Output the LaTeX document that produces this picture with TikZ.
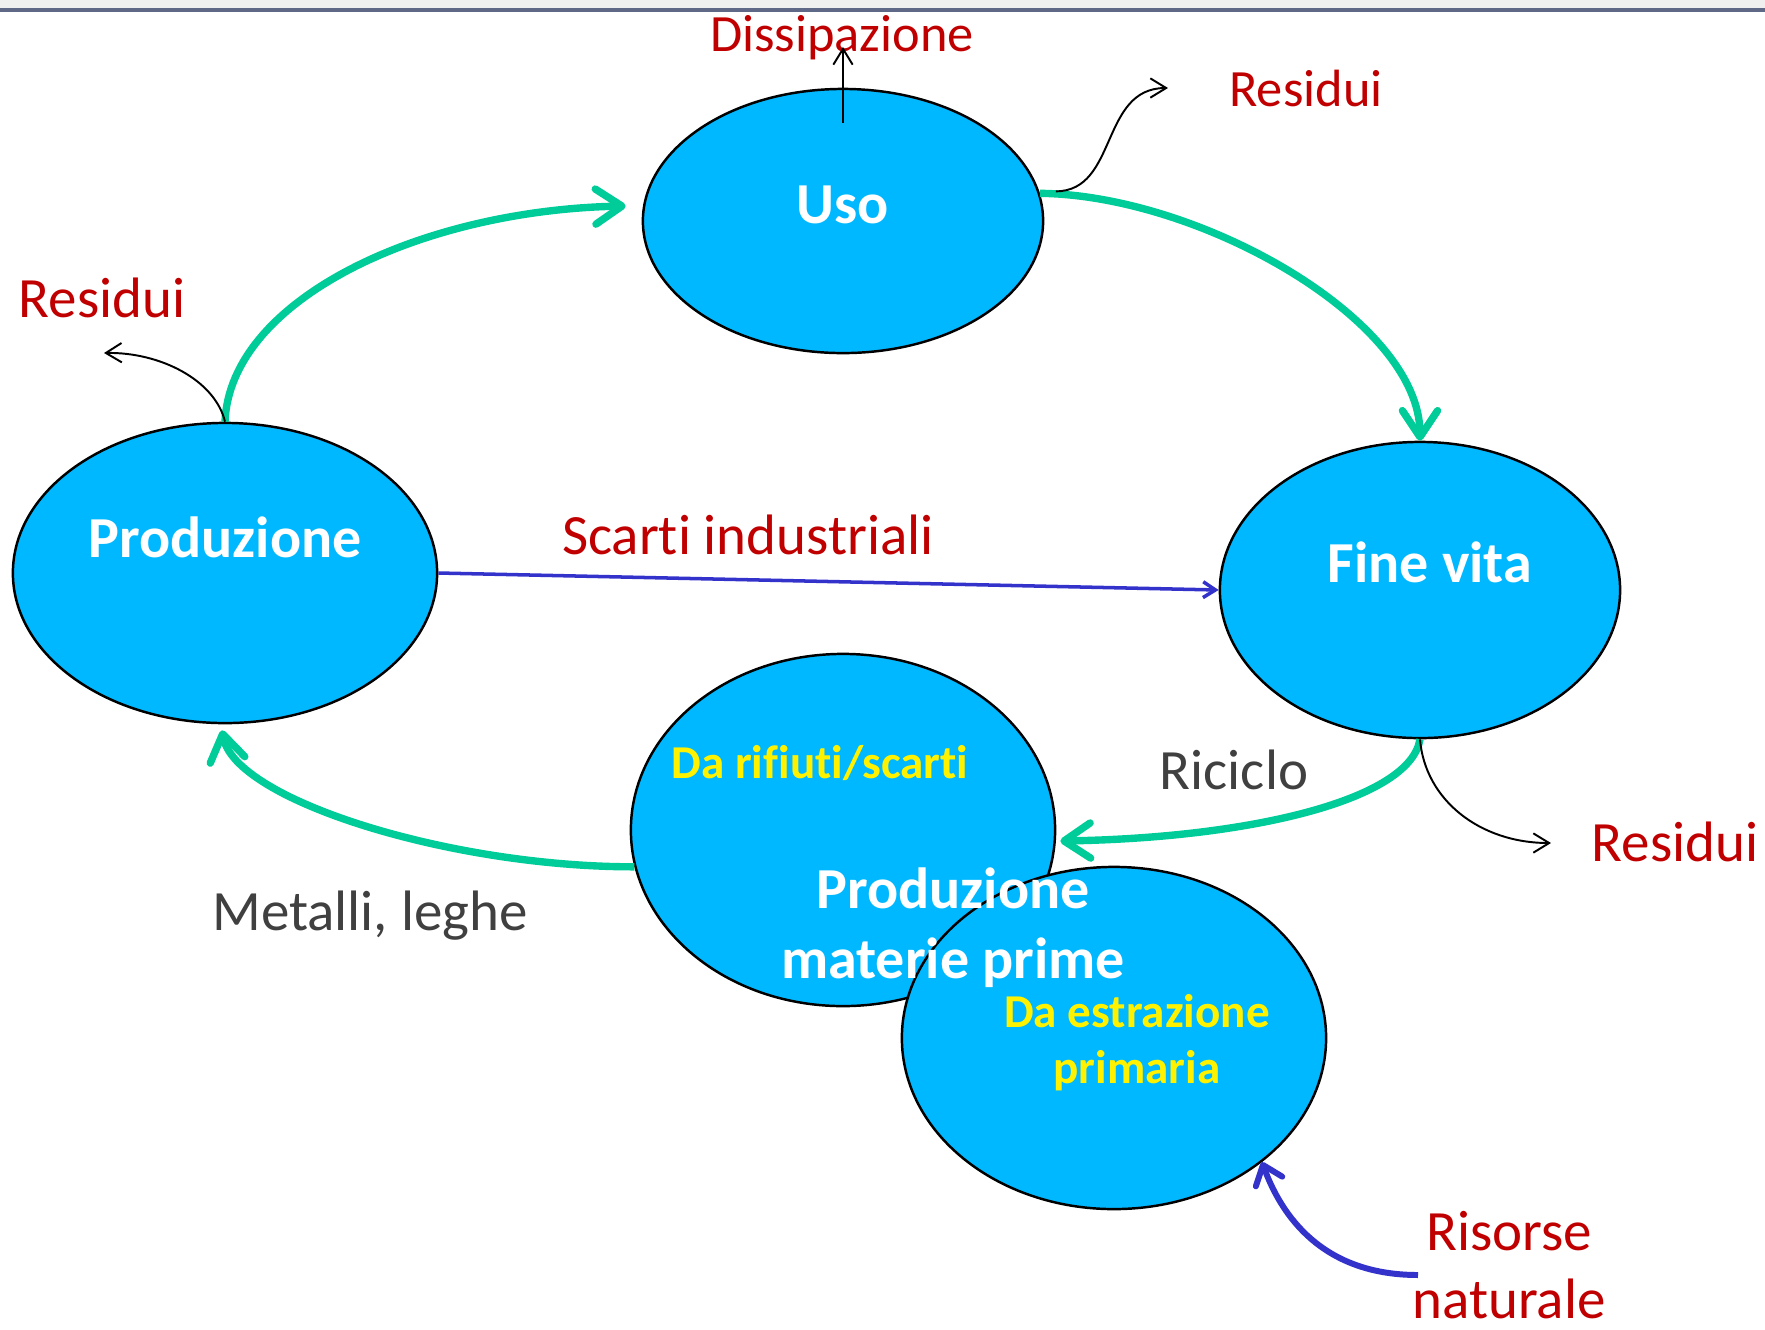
\documentclass[tikz,border=0pt]{standalone}
\usepackage{fontspec}
\setmainfont{Carlito}[Ligatures=CommonOff]
\usetikzlibrary{shapes.geometric,arrows.meta,calc}
\definecolor{celeste}{RGB}{0,184,255}
\definecolor{verde}{RGB}{0,204,153}
\definecolor{blu}{RGB}{51,51,204}
\definecolor{rosso}{RGB}{192,0,0}
\definecolor{grigio}{RGB}{64,64,64}
\definecolor{cornice}{RGB}{95,105,135}
\tikzset{
	fase/.style={ellipse, draw=black, line width=0.7pt, fill=celeste, inner sep=0pt},
	titolo/.style={text=white, font=\bfseries\fontsize{16.5}{19.9}\selectfont, anchor=base, align=center},
	sotto/.style={text=yellow, font=\bfseries\fontsize{13.4}{15.9}\selectfont, anchor=base, align=center},
	uscita/.style={text=rosso, font=\fontsize{16.2}{19.1}\selectfont, anchor=base, align=center},
	piccola/.style={text=rosso, font=\fontsize{14.9}{18}\selectfont, anchor=base},
	nota/.style={text=grigio, font=\fontsize{16.2}{19.1}\selectfont, anchor=base},
	ciclo/.style={verde, line width=2.1pt, -{Straight Barb[length=7.5pt,width=10pt,round]}},
	perdita/.style={black, line width=0.55pt, -{Straight Barb[length=4.5pt,width=5.5pt]}},
	scarto/.style={blu, line width=1pt, -{Straight Barb[length=3.5pt,width=4.5pt]}},
	risorsa/.style={blu, line width=1.7pt, -{Straight Barb[length=5pt,width=8pt,round]}}
}
\begin{document}
\begin{tikzpicture}[x=0.01cm, y=-0.01cm]
	\useasboundingbox (0,0) rectangle (1765,1329);
	\fill[gray!12] (0,0) rectangle (1765,9);
	\draw[cornice, line width=0.9pt] (0,10) -- (1765,10);

	\node[fase, minimum width=4cm, minimum height=2.64cm] (uso) at (843,221) {};
	\node[fase, minimum width=4.24cm, minimum height=3cm] (prod) at (225,573) {};
	\node[fase, minimum width=4cm, minimum height=2.96cm] (fine) at (1420,590) {};
	\node[fase, minimum width=4.24cm, minimum height=3.52cm] (mp) at (843,830) {};
	\node[fase, minimum width=4.24cm, minimum height=3.42cm] (estr) at (1114,1038) {};

	\node[titolo] (tuso) at (843,223) {Uso};
	\node[titolo] (tprod) at (225,557) {Produzione};
	\node[titolo] (tfine) at (1430,582) {Fine vita};
	\node[sotto] (trif) at (820,778) {Da rifiuti/scarti};
	\node[titolo] (tmp) at (953,978) {Produzione\\materie prime};
	\node[sotto] (testr) at (1137,1083) {Da estrazione\\primaria};

	\node[piccola] (diss) at (842,51) {Dissipazione};
	\node[piccola] (res1) at (1306,106) {Residui};
	\node[uscita] (res2) at (102,317) {Residui};
	\node[uscita] (res3) at (1675,861) {Residui};
	\node[uscita] (scarti) at (748,554) {Scarti industriali};
	\node[uscita] (risorse) at (1509,1318) {Risorse\\naturale};
	\node[nota] (ric) at (1234,789) {Riciclo};
	\node[nota] (met) at (370,930) {Metalli, leghe};

	\coordinate (p1) at (1168,88);
	\coordinate (p2) at (104,353);
	\coordinate (p3) at (1551,843);
	\coordinate (nat) at (1418,1275);

	\draw[ciclo] (prod.north) .. controls (230,300) and (420,210) .. ($(uso.west)+(-16,-15)$);
	\draw[ciclo] (uso.8) .. controls (1200,195) and (1420,320) .. (fine.north);
	\draw[ciclo] (fine.south) .. controls (1410,800) and (1250,838) .. ($(mp.east)+(4,11)$);
	\draw[ciclo] (mp.190) .. controls (450,867) and (235,800) .. ($(prod.south)+(-3,6)$);

	\draw[scarto] (prod.east) -- (fine.west);
	\draw[risorsa] (nat) .. controls (1330,1275) and (1285,1225) .. (estr.-40);

	\draw[perdita] ($(uso.north)+(0,35)$) -- ($(diss.base)+(1,-4)$);
	\draw[perdita] ($(uso.8)+(16,-2)$) .. controls (1118,191) and (1100,88) .. (p1);
	\draw[perdita] (prod.north) .. controls (215,380) and (160,352) .. (p2);
	\draw[perdita] (fine.south) .. controls (1425,800) and (1480,843) .. (p3);
\end{tikzpicture}
\end{document}
